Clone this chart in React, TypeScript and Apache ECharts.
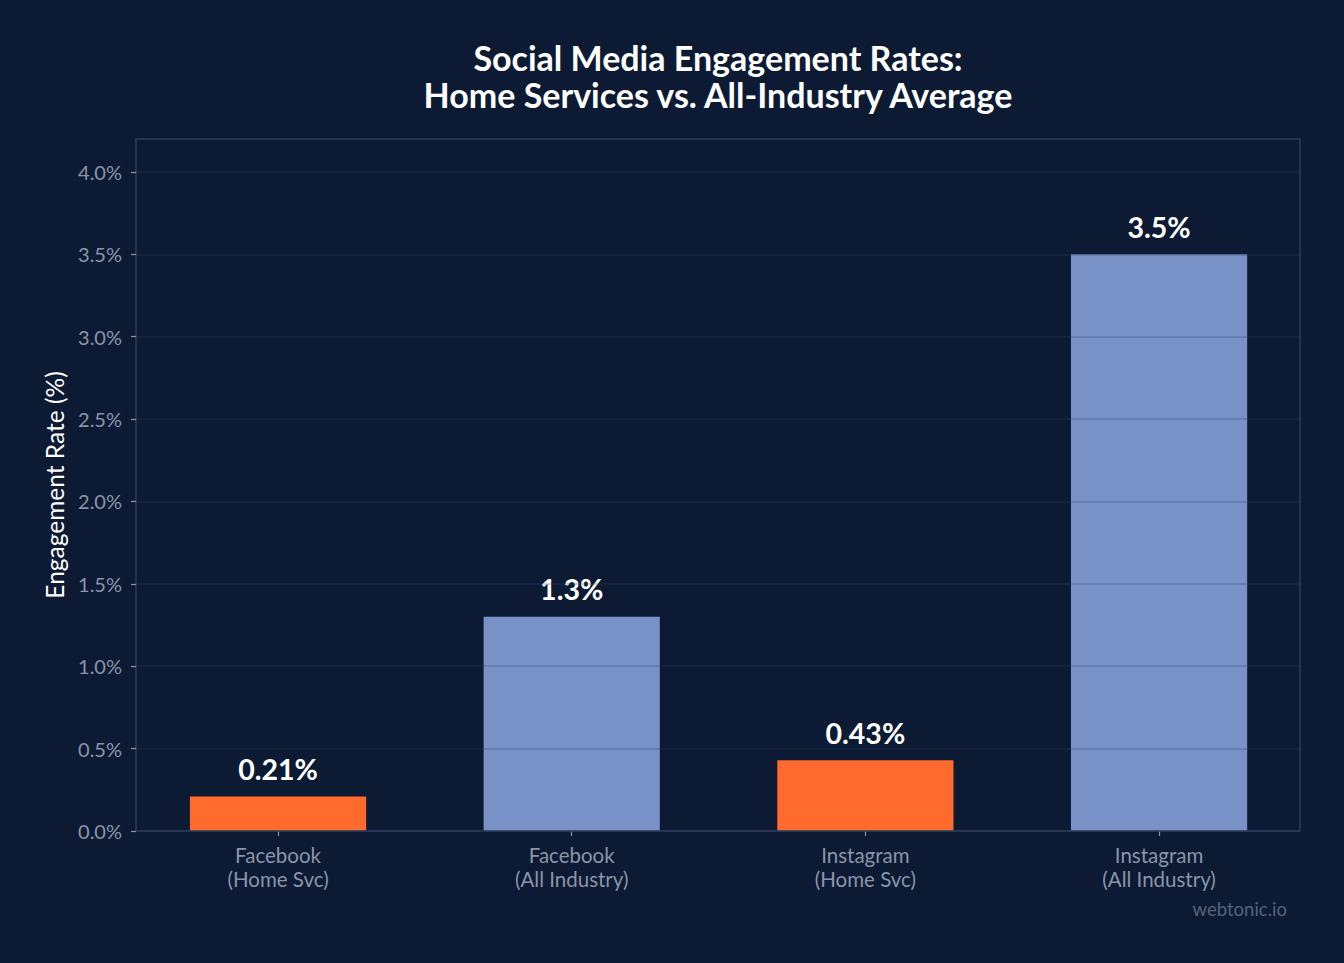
import React, { useEffect, useRef } from "react";
import * as echarts from "echarts";

const categories = [
  "Facebook\n(Home Svc)",
  "Facebook\n(All Industry)",
  "Instagram\n(Home Svc)",
  "Instagram\n(All Industry)",
];
const values = [0.21, 1.3, 0.43, 3.5];
const valueLabels = ["0.21%", "1.3%", "0.43%", "3.5%"];
const barColors = ["#ff6b2c", "#7891c7", "#ff6b2c", "#7891c7"];
const yTickValues = [0, 0.5, 1.0, 1.5, 2.0, 2.5, 3.0, 3.5, 4.0];
const titleLines = ["Social Media Engagement Rates:", "Home Services vs. All-Industry Average"];
const yAxisName = "Engagement Rate (%)";
const watermark = "webtonic.io";

const BG = "#0c1b33";
const FONT = "Lato, 'Noto Sans', sans-serif";
const MUTED = "#8b94a8";

export default function App() {
  const ref = useRef<HTMLDivElement>(null);
  useEffect(() => {
    if (!ref.current) return;
    const chart = echarts.init(ref.current, undefined, { renderer: "svg" });
    chart.setOption({
      animation: false,
      backgroundColor: BG,
      textStyle: { fontFamily: FONT },
      graphic: [
        {
          type: "text",
          x: 718,
          y: 39,
          z: 50,
          style: {
            text: titleLines.join("\n"),
            fill: "#ffffff",
            font: `bold 34px ${FONT}`,
            textAlign: "center",
            lineHeight: 37,
          },
        },
        {
          type: "text",
          right: 57,
          top: 899,
          z: 50,
          style: {
            text: watermark,
            fill: "#56627b",
            font: `18.5px ${FONT}`,
          },
        },
      ],
      grid: [
        { left: 131.2, right: 38.1, top: 139, bottom: 132, containLabel: false },
        {
          left: 136,
          right: 44,
          top: 139,
          bottom: 132,
          show: true,
          backgroundColor: "transparent",
          borderColor: "#2d3c5a",
          borderWidth: 1.5,
          z: 10,
        },
      ],
      xAxis: [
        {
          type: "category",
          gridIndex: 0,
          data: categories,
          axisLine: { show: false },
          axisTick: {
            show: true,
            alignWithLabel: true,
            length: 5,
            lineStyle: { color: MUTED, width: 1.2 },
          },
          axisLabel: {
            color: MUTED,
            fontSize: 20.5,
            lineHeight: 24,
            margin: 12,
            fontFamily: FONT,
          },
          splitLine: { show: false },
        },
        { type: "value", gridIndex: 1, min: 0, max: 1, show: false },
      ],
      yAxis: [
        { type: "value", gridIndex: 0, min: 0, max: 4.2, show: false },
        {
          type: "value",
          gridIndex: 1,
          min: 0,
          max: 4.2,
          interval: 0.5,
          z: 10,
          name: yAxisName,
          nameLocation: "middle",
          nameGap: 66,
          nameTextStyle: { color: "#ffffff", fontSize: 24.5, fontFamily: FONT },
          axisLine: { show: false },
          axisTick: {
            show: true,
            length: 5,
            customValues: yTickValues,
            lineStyle: { color: MUTED, width: 1.2 },
          },
          axisLabel: {
            color: MUTED,
            fontSize: 20,
            margin: 14,
            fontFamily: FONT,
            customValues: yTickValues,
            formatter: (v: number) => v.toFixed(1) + "%",
          },
          splitLine: {
            show: true,
            lineStyle: { color: "rgba(42,63,110,0.3)", width: 1.5 },
          },
        },
      ],
      series: [
        {
          type: "bar",
          xAxisIndex: 0,
          yAxisIndex: 0,
          barWidth: "60%",
          data: values.map((v, i) => ({ value: v, itemStyle: { color: barColors[i] } })),
          label: {
            show: true,
            position: "top",
            distance: 13,
            color: "#ffffff",
            fontSize: 28.5,
            fontWeight: "bold",
            fontFamily: FONT,
            formatter: (p: any) => valueLabels[p.dataIndex],
          },
        },
      ],
    });
    return () => chart.dispose();
  }, []);
  return (
    <div
      ref={ref}
      style={{ position: "fixed", left: 0, top: 0, width: 1344, height: 963 }}
    />
  );
}
